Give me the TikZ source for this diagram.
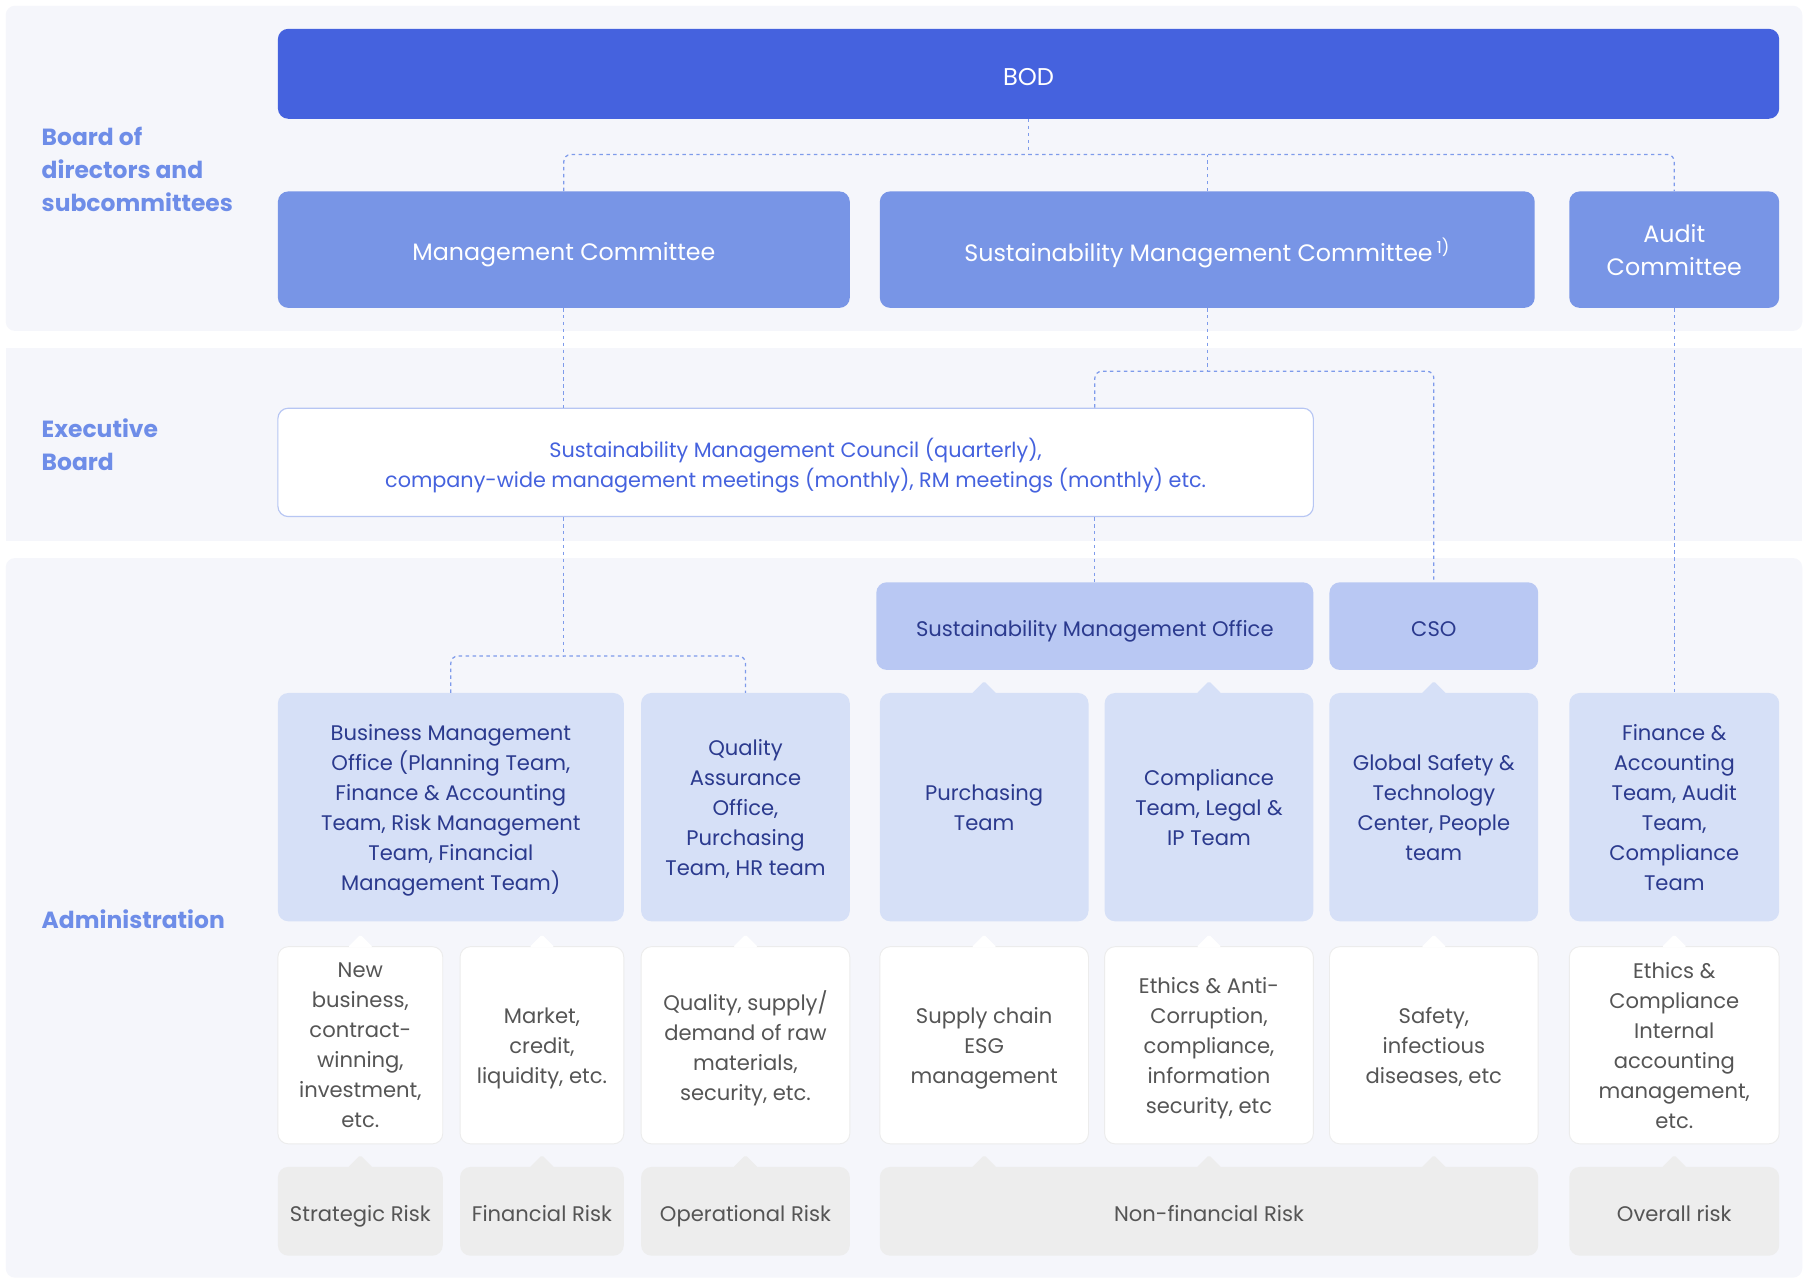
\documentclass[tikz,border=0pt]{standalone}
\usepackage{fontspec}
\setmainfont{Poppins}
\usepackage{xcolor}
\usepackage{tikz}

\definecolor{bodblue}{HTML}{4562DE}
\definecolor{cmtblue}{HTML}{7895E6}
\definecolor{offblue}{HTML}{B9C8F3}
\definecolor{teamblue}{HTML}{D6E0F7}
\definecolor{bandgray}{HTML}{F5F6FB}
\definecolor{riskgray}{HTML}{EDEDED}
\definecolor{descedge}{HTML}{ECECEC}
\definecolor{navy}{HTML}{2B3A8E}
\definecolor{txtgray}{HTML}{555555}
\definecolor{labelblue}{HTML}{6E8DE8}
\definecolor{linkblue}{HTML}{7E9BEB}
\definecolor{edgeblue}{HTML}{B7C6F3}

% small pointer on top of a box
\newcommand{\drawnotch}[2]{\fill[#1, rounded corners=1.5pt] (#2) ++(-11pt,-1pt) -- ++(11pt,11pt) -- ++(11pt,-11pt) -- cycle;}

\begin{document}
\begin{tikzpicture}[x=1pt, y=-1pt,
    box/.style={rounded corners=9pt, align=center, inner sep=0pt, font=\fontsize{18.3}{26}\selectfont,
      execute at begin node={\rule{0pt}{0.95em}}, text depth=0pt},
    cmt/.style={box, fill=cmtblue, text=white, minimum height=101pt, font=\fontsize{20.6}{28.5}\selectfont},
    office/.style={box, fill=offblue, text=navy, minimum height=76pt},
    team/.style={box, fill=teamblue, text=navy, minimum height=198pt},
    desc/.style={box, fill=white, draw=descedge, line width=0.8pt, text=txtgray, minimum height=171pt},
    risk/.style={box, fill=riskgray, text=txtgray, minimum height=77pt},
    sidelabel/.style={anchor=west, align=left, inner sep=0pt, text=labelblue, font=\fontsize{20.3}{28.5}\selectfont\bfseries},
    link/.style={linkblue, line width=1.1pt, dash pattern=on 3pt off 3pt, rounded corners=6pt}]

  % page and bands
  \fill[white] (0,0) rectangle (1568,1113);
  \useasboundingbox (0,0) rectangle (1568,1113);
  \fill[bandgray, rounded corners=8pt] (5,5) rectangle (1563,287);
  \fill[bandgray] (5,302) rectangle (1563,469);
  \fill[bandgray, rounded corners=8pt] (5,484) rectangle (1563,1108);

  % level labels
  \node[sidelabel] (lbod) at (36,147) {Board of\\directors and\\subcommittees};
  \node[sidelabel] (lexec) at (36,386) {Executive\\Board};
  \node[sidelabel] (ladmin) at (36,797) {Administration};

  % board and committees
  \node[box, fill=bodblue, text=white, minimum width=1302pt, minimum height=78pt, font=\fontsize{21}{26}\selectfont] (bod) at (892,64) {BOD};
  \node[cmt, minimum width=496pt] (mgmt) at (489,216.5) {Management Committee};
  \node[cmt, minimum width=568pt] (smc) at (1047,216.5) {Sustainability Management Committee\,\textsuperscript{1)}};
  \node[cmt, minimum width=182pt] (audit) at (1452,216.5) {Audit\\Committee};

  % executive board
  \node[box, fill=white, draw=edgeblue, line width=1pt, text=bodblue, minimum width=898pt, minimum height=94pt, font=\fontsize{18}{26}\selectfont] (council) at (690,401)
    {Sustainability Management Council (quarterly),\\company-wide management meetings (monthly), RM meetings (monthly) etc.};

  % administration
  \node[office, minimum width=379pt] (smo) at (949.5,543) {Sustainability Management Office};
  \node[office, minimum width=181pt] (cso) at (1243.5,543) {CSO};

  \node[team, minimum width=300pt] (bmo) at (391,700) {Business Management\\Office (Planning Team,\\Finance \& Accounting\\Team, Risk Management\\Team, Financial\\Management Team)};
  \node[team, minimum width=181pt] (qa) at (646.5,700) {Quality\\Assurance\\Office,\\Purchasing\\Team, HR team};
  \node[team, minimum width=181pt] (purch) at (853.5,700) {Purchasing\\Team};
  \node[team, minimum width=181pt] (comp) at (1048.5,700) {Compliance\\Team, Legal \&\\IP Team};
  \node[team, minimum width=181pt] (gst) at (1243.5,700) {Global Safety \&\\Technology\\Center, People\\team};
  \node[team, minimum width=182pt] (fin) at (1452,700) {Finance \&\\Accounting\\Team, Audit\\Team,\\Compliance\\Team};

  \node[desc, minimum width=143pt] (d1) at (312.5,906.5) {New\\business,\\contract-\\winning,\\investment,\\etc.};
  \node[desc, minimum width=142pt] (d2) at (470,906.5) {Market,\\credit,\\liquidity, etc.};
  \node[desc, minimum width=181pt] (d3) at (646.5,906.5) {Quality, supply/\\demand of raw\\materials,\\security, etc.};
  \node[desc, minimum width=181pt] (d4) at (853.5,906.5) {Supply chain\\ESG\\management};
  \node[desc, minimum width=181pt] (d5) at (1048.5,906.5) {Ethics \& Anti-\\Corruption,\\compliance,\\information\\security, etc};
  \node[desc, minimum width=181pt] (d6) at (1243.5,906.5) {Safety,\\infectious\\diseases, etc};
  \node[desc, minimum width=182pt] (d7) at (1452,906.5) {Ethics \&\\Compliance\\Internal\\accounting\\management,\\etc.};

  \node[risk, minimum width=143pt] (r1) at (312.5,1050.5) {Strategic Risk};
  \node[risk, minimum width=142pt] (r2) at (470,1050.5) {Financial Risk};
  \node[risk, minimum width=181pt] (r3) at (646.5,1050.5) {Operational Risk};
  \node[risk, minimum width=571pt] (r4) at (1048.5,1050.5) {Non-financial Risk};
  \node[risk, minimum width=182pt] (r5) at (1452,1050.5) {Overall risk};

  % pointers
  \foreach \t in {purch, comp, gst} {\drawnotch{teamblue}{\t.north}}
  \foreach \d in {d1, d2, d3, d4, d5, d6, d7} {\drawnotch{white}{\d.north}}
  \foreach \d/\r in {d1/r1, d2/r2, d3/r3, d4/r4, d5/r4, d6/r4, d7/r5} {\drawnotch{riskgray}{\d.south |- \r.north}}

  % connectors
  \coordinate (j1) at (892,134);
  \coordinate (j2) at (1047,322);
  \coordinate (j3) at (489,569);
  \draw[link] (bod.south) -- (j1);
  \draw[link] (mgmt.north) |- (j1) -| (audit.north);
  \draw[link] (smc.north) -- (smc.north |- j1);
  \draw[link] (mgmt.south) -- (mgmt.south |- council.north);
  \draw[link] (smc.south) -- (j2);
  \draw[link] (smo.north |- council.north) |- (j2) -| (cso.north);
  \draw[link] (smo.north |- council.south) -- (smo.north);
  \draw[link] (audit.south) -- (fin.north);
  \draw[link] (j3 |- council.south) -- (j3);
  \draw[link] (bmo.north) |- (j3) -| (qa.north);
\end{tikzpicture}
\end{document}
